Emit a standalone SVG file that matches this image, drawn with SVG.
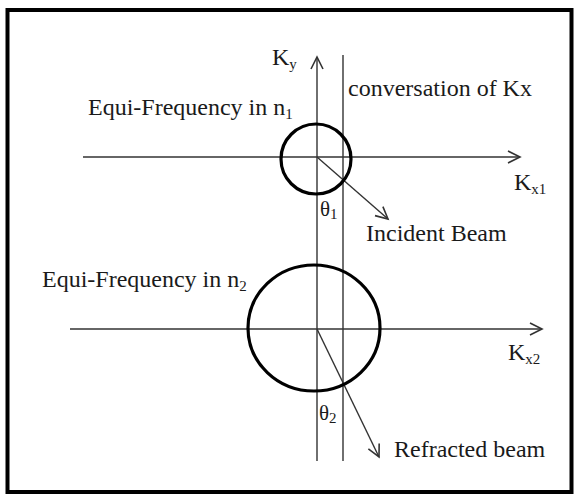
<svg xmlns="http://www.w3.org/2000/svg" width="576" height="496" viewBox="0 0 576 496">
<style>
.t{font-family:"Liberation Serif","Times New Roman",serif;font-size:24px;fill:#1a1a1a}
.s{font-size:15px}
.ax{stroke:#333;stroke-width:1.4;fill:none}
.ci{stroke:#000;stroke-width:3.2;fill:none}
</style>
<defs>
<marker id="ah" markerUnits="userSpaceOnUse" markerWidth="16" markerHeight="16" refX="13" refY="7" orient="auto" viewBox="0 0 16 14">
<path d="M1,1 L13,7 L1,13" fill="none" stroke="#333" stroke-width="1.6"/>
</marker>
</defs>
<rect x="0" y="0" width="576" height="496" fill="#fff"/>
<rect x="7.5" y="10" width="564" height="482" fill="none" stroke="#000" stroke-width="4"/>
<g id="connectors">
<line class="ax" x1="317" y1="461" x2="317" y2="57" marker-end="url(#ah)"/>
<line class="ax" x1="343" y1="55" x2="343" y2="461"/>
<line class="ax" x1="83" y1="157" x2="520" y2="157" marker-end="url(#ah)"/>
<line class="ax" x1="70" y1="329" x2="542" y2="329" marker-end="url(#ah)"/>
<line class="ax" x1="317" y1="157" x2="388" y2="219" marker-end="url(#ah)"/>
<line class="ax" x1="317" y1="329" x2="379" y2="457" marker-end="url(#ah)"/>
</g>
<g id="circle1"><circle class="ci" cx="316" cy="159" r="35"/></g>
<g id="circle2"><ellipse class="ci" cx="314" cy="328" rx="66" ry="63"/></g>
<g id="labels">
<text class="t" x="272" y="65">K<tspan class="s" dy="4">y</tspan></text>
<text class="t" x="348" y="96">conversation of Kx</text>
<text class="t" x="88" y="115">Equi-Frequency in n<tspan class="s" dy="4">1</tspan></text>
<text class="t" x="514" y="190">K<tspan class="s" dy="4">x1</tspan></text>
<text class="t" x="320" y="216" style="font-size:21px">θ<tspan class="s" dy="3">1</tspan></text>
<text class="t" x="366" y="241">Incident Beam</text>
<text class="t" x="42" y="287">Equi-Frequency in n<tspan class="s" dy="4">2</tspan></text>
<text class="t" x="508" y="360">K<tspan class="s" dy="4">x2</tspan></text>
<text class="t" x="319" y="420" style="font-size:21px">θ<tspan class="s" dy="3">2</tspan></text>
<text class="t" x="394" y="457">Refracted beam</text>
</g>
</svg>
